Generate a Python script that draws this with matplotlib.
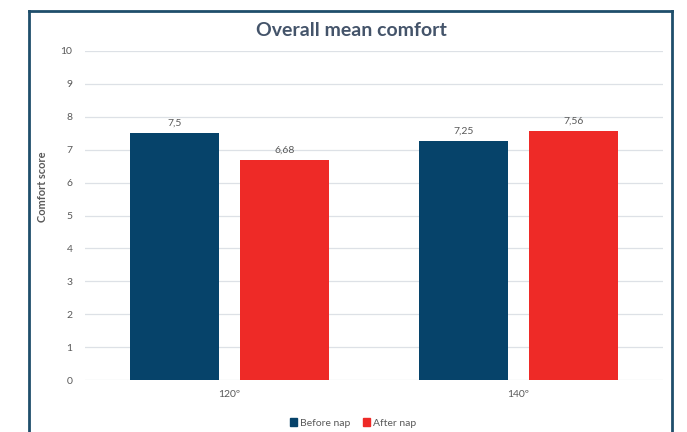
import matplotlib
matplotlib.use("Agg")
import matplotlib.pyplot as plt
import numpy as np
from matplotlib.lines import Line2D
from matplotlib.patches import Patch

plt.rcParams['font.family'] = ['Lato', 'DejaVu Sans']

categories = ["120º", "140º"]
series_names = ["Before nap", "After nap"]
before_nap = [7.5, 7.25]
after_nap = [6.68, 7.56]
value_labels_before = ["7,5", "7,25"]
value_labels_after = ["6,68", "7,56"]
y_ticks = list(range(0, 11))

blue = "#06436A"
red = "#EE2A27"
text_gray = "#595959"
title_color = "#44546A"
frame_color = "#1F4E6B"

W, H = 687, 432
fig = plt.figure(figsize=(W / 100, H / 100), dpi=100)

# plot area in pixel terms
left, right, top, bottom = 85, 663, 51, 380
ax = fig.add_axes([left / W, 1 - bottom / H, (right - left) / W, (bottom - top) / H])

x = np.arange(len(categories))
bw, off = 0.31, 0.19
bars_b = ax.bar(x - off, before_nap, bw, color=blue, zorder=3)
bars_a = ax.bar(x + off, after_nap, bw, color=red, zorder=3)

for bars, labels in ((bars_b, value_labels_before), (bars_a, value_labels_after)):
    for b, lab in zip(bars, labels):
        ax.annotate(lab, (b.get_x() + b.get_width() / 2, b.get_height()),
                    xytext=(0, 4), textcoords="offset points",
                    ha="center", va="bottom", fontsize=7.5, color=text_gray)

ax.set_xlim(-0.5, len(categories) - 0.5)
ax.set_ylim(0, 10)
ax.set_yticks(y_ticks)
ax.set_xticks(x)
ax.set_xticklabels(categories)
ax.tick_params(axis="both", length=0, labelsize=7.5, colors=text_gray)
ax.tick_params(axis="x", pad=7)
ax.tick_params(axis="y", pad=9)
ax.grid(axis="y", color="#DDE1E6", linewidth=0.9, zorder=0)
for s in ax.spines.values():
    s.set_visible(False)

ylab = fig.text(43 / W, 1 - 187 / H, "Comfort score", rotation=90, ha="center", va="center",
                fontsize=7.5, fontweight="bold", color=text_gray)
# size the axis title so it spans about 70 px
renderer = fig.canvas.get_renderer()
ext = ylab.get_window_extent(renderer)
ylab.set_fontsize(7.5 * 70 / ext.height)

fig.text(351 / W, 1 - 31 / H, "Overall mean comfort", ha="center", va="center",
         fontsize=14, fontweight="bold", color=title_color)

handles = [Patch(color=blue), Patch(color=red)]
fig.legend(handles, series_names, loc="center", bbox_to_anchor=(353 / W, 1 - 423 / H),
           ncol=2, frameon=False, fontsize=7.5, labelcolor=text_gray,
           handlelength=0.7, handleheight=0.7, handletextpad=0.3, columnspacing=1.2)

# chart frame (bottom edge runs off the canvas)
fx0, fx1, fy0 = 29 / W, 672 / W, 1 - 11 / H
for xs, ys in (([fx0, fx0], [-0.05, fy0]), ([fx0, fx1], [fy0, fy0]), ([fx1, fx1], [fy0, -0.05])):
    fig.add_artist(Line2D(xs, ys, color=frame_color, linewidth=2, transform=fig.transFigure))

fig.savefig("out.png", dpi=100)
